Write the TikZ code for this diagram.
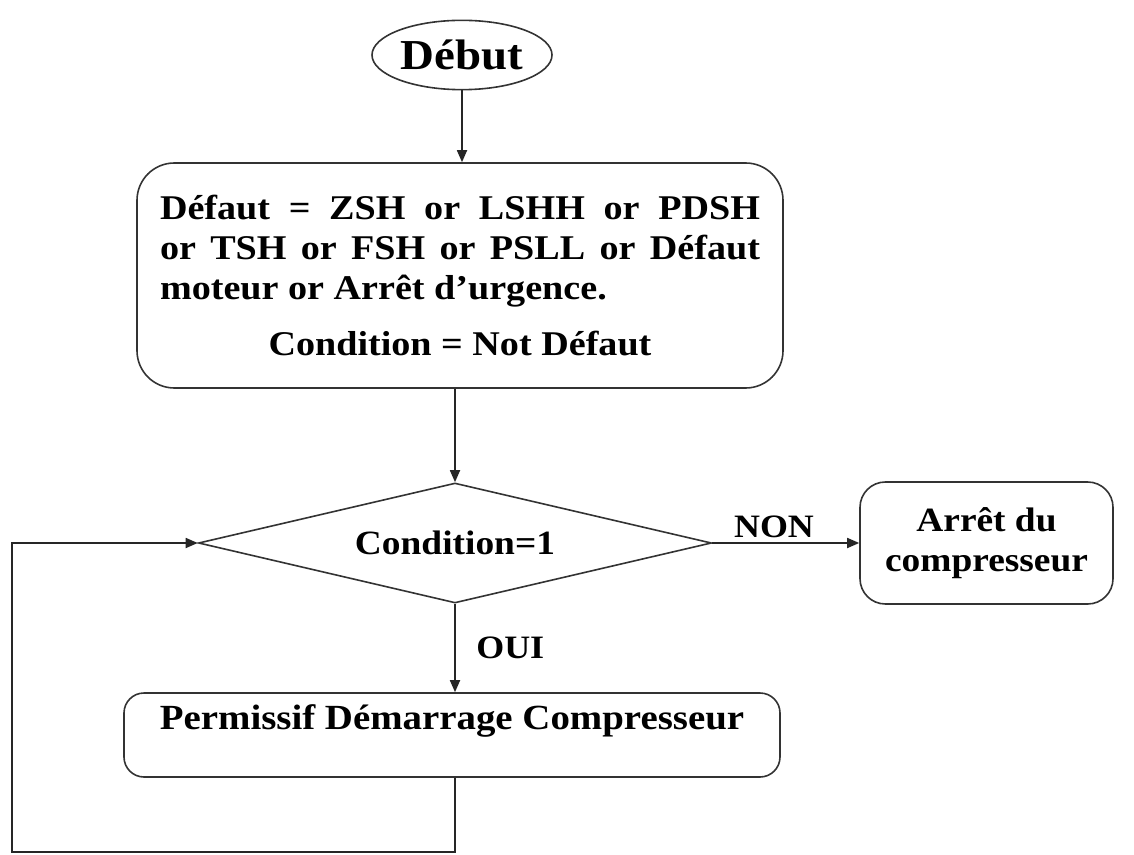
\documentclass[tikz,border=0pt]{standalone}
\usepackage{fontspec}
\setmainfont{Liberation Serif}[FakeStretch=1.1]
\usetikzlibrary{shapes.geometric, arrows.meta}
\tikzstyle{terminal} = [ellipse,
minimum width=135pt,
minimum height=52pt,
inner sep=0pt,
draw=black!80,
line width=1.2pt,
font=\fontsize{32}{36}\selectfont\bfseries]
\tikzstyle{bloc} = [rectangle,
rounded corners=28pt,
draw=black!80,
line width=1.2pt,
font=\fontsize{26}{30}\selectfont\bfseries]
\tikzstyle{decision} = [diamond,
aspect=4.3,
minimum width=384.75pt,
minimum height=90pt,
inner sep=0pt,
draw=black!80,
line width=1.2pt,
font=\fontsize{25.5}{30}\selectfont\bfseries]
\tikzstyle{libelle} = [font=\fontsize{24.5}{28}\selectfont\bfseries]
\tikzstyle{arrow} = [line width=1.3pt,draw=black!85,->,>={Triangle[length=9pt,width=7.5pt]}]

\begin{document}
\begin{tikzpicture}[x=0.75pt, y=-0.75pt]
\useasboundingbox (0,0) rectangle (1134,855);

\node (start) [terminal] at (462,55) {Début};
\node (defaut) [bloc, minimum width=484.5pt, minimum height=168.75pt, text width=450pt, align=justify] at (460,275.5)
{Défaut = ZSH or LSHH or PDSH\linebreak or TSH or FSH or PSLL or Défaut\linebreak moteur or Arrêt d’urgence.\par\vspace{12pt}\centerline{Condition = Not Défaut}\vspace{8pt}};
\node (cond) [decision] at (455,543) {Condition=1};
\node (arret) [bloc, rounded corners=19pt, minimum width=189.75pt, minimum height=91.5pt, align=center, font=\fontsize{25.5}{30}\selectfont\bfseries] at (986.5,543) {Arrêt du\\compresseur};
\node (permis) [bloc, rounded corners=15pt, minimum width=492pt, minimum height=63pt, text height=16pt, text depth=24pt, font=\fontsize{26.5}{30}\selectfont\bfseries] at (452,735) {Permissif Démarrage Compresseur};
\coordinate (retour) at (12,852);

\draw [arrow] (start) -- (start |- defaut.north);
\draw [arrow] (defaut.south -| cond.north) -- (cond.north);
\draw [arrow] (cond) -- node[libelle, above, pos=0.42] {NON} (arret);
\draw [arrow] (cond.south) -- node[libelle, anchor=west, xshift=12pt] {OUI} (cond.south |- permis.north);
\draw [arrow] (cond.south |- permis.south) |- (retour) |- (cond.west);

\end{tikzpicture}
\end{document}
